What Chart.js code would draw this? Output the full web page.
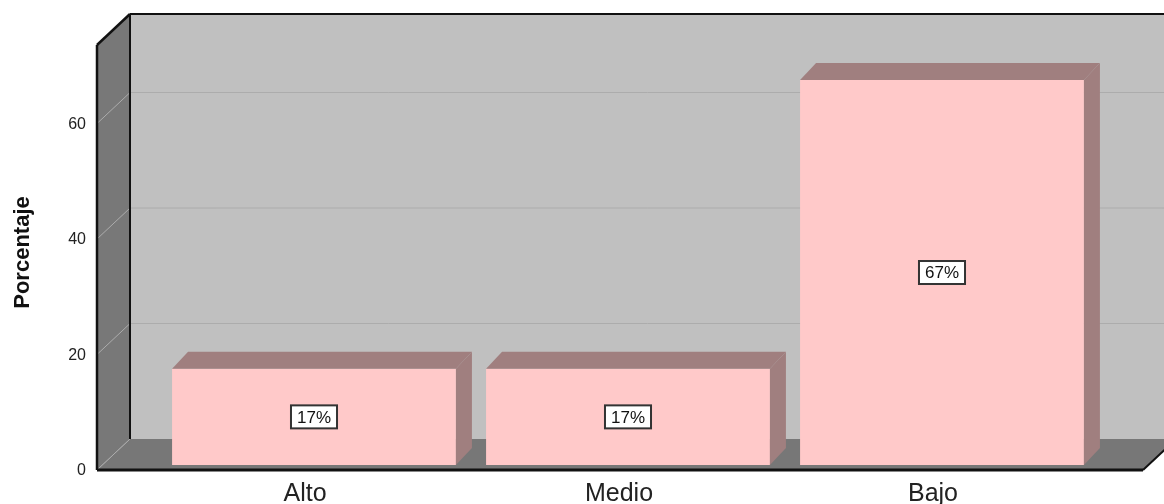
<!DOCTYPE html>
<html>
<head>
<meta charset="utf-8">
<script src="https://cdn.jsdelivr.net/npm/chart.js@4/dist/chart.umd.min.js"></script>
<style>
  html, body { margin: 0; padding: 0; background: #ffffff; }
  #wrap { width: 1164px; height: 504px; position: relative; }
</style>
</head>
<body>
<div id="wrap"><canvas id="chart"></canvas></div>
<script>
// Data
const categories = ['Alto', 'Medio', 'Bajo'];
const percentages = [16.67, 16.67, 66.67];
const valueLabels = ['17%', '17%', '67%'];
const yStep = 20;
const yMax = 73.6;

const FONT = "'Liberation Sans', Arial, sans-serif";

// 3D look: offsets from the bar plane
const FRONT = { dx: -5, dy: 5 };   // axis / front floor edge
const DEPTH = { dx: 33, dy: -31 }; // front plane -> back wall
const BAR_DEPTH = { dx: 16, dy: -17 };

const COLOURS = {
  backWall: '#c0c0c0',
  sideWall: '#787878',
  floor: '#777777',
  grid: '#acacac',
  barFront: '#ffc9c9',
  barSide: '#a07f7f',
  edge: '#111111',
};

function poly(ctx, pts, fill) {
  ctx.beginPath();
  ctx.moveTo(pts[0][0], pts[0][1]);
  for (let i = 1; i < pts.length; i++) ctx.lineTo(pts[i][0], pts[i][1]);
  ctx.closePath();
  ctx.fillStyle = fill;
  ctx.fill();
}

function line(ctx, x1, y1, x2, y2, colour, width) {
  ctx.beginPath();
  ctx.moveTo(x1, y1);
  ctx.lineTo(x2, y2);
  ctx.strokeStyle = colour;
  ctx.lineWidth = width;
  ctx.stroke();
}

const box3d = {
  id: 'box3d',
  beforeDatasetsDraw(chart) {
    const { ctx, chartArea: ca, scales: { y } } = chart;
    const fl = ca.left - 60;                 // left wall, front edge
    const bl = fl + DEPTH.dx;                // left wall, back edge
    const fr = ca.right + 44;                // floor, front right corner
    const br = fr + DEPTH.dx;
    const fTop = ca.top + FRONT.dy;
    const fBot = y.getPixelForValue(0) + FRONT.dy;
    const bTop = fTop + DEPTH.dy;
    const bBot = fBot + DEPTH.dy;

    ctx.save();
    // back wall
    poly(ctx, [[bl, bTop], [br, bTop], [br, bBot], [bl, bBot]], COLOURS.backWall);
    // left wall
    poly(ctx, [[fl, fTop], [bl, bTop], [bl, bBot], [fl, fBot]], COLOURS.sideWall);
    // floor
    poly(ctx, [[fl, fBot], [fr, fBot], [br, bBot], [bl, bBot]], COLOURS.floor);

    // grid lines on back and left walls
    y.ticks.forEach(t => {
      const fy = y.getPixelForValue(t.value) + FRONT.dy;
      const by = fy + DEPTH.dy;
      if (t.value > 0) line(ctx, bl, by, br, by, COLOURS.grid, 1);
      line(ctx, fl, fy, bl, by, COLOURS.grid, 1);
    });

    // outlines
    line(ctx, fl, fTop, fl, fBot, COLOURS.edge, 2.5);
    line(ctx, fl, fTop, bl, bTop, COLOURS.edge, 2.5);
    line(ctx, bl, bTop, br, bTop, COLOURS.edge, 2);
    line(ctx, bl, bTop, bl, bBot, COLOURS.edge, 2);
    line(ctx, fl, fBot, fr, fBot, COLOURS.edge, 3);
    line(ctx, fr, fBot, br, bBot, COLOURS.edge, 2);
    ctx.restore();
  },
  afterDatasetsDraw(chart) {
    const { ctx } = chart;
    const meta = chart.getDatasetMeta(0);
    ctx.save();
    meta.data.forEach((bar, i) => {
      const { x, y, base, width } = bar.getProps(['x', 'y', 'base', 'width'], true);
      const l = x - width / 2, r = x + width / 2;
      const dx = BAR_DEPTH.dx, dy = BAR_DEPTH.dy;
      // top face
      poly(ctx, [[l, y], [l + dx, y + dy], [r + dx, y + dy], [r, y]], COLOURS.barSide);
      // right face
      poly(ctx, [[r, y], [r + dx, y + dy], [r + dx, base + dy], [r, base]], COLOURS.barSide);

      // value label box
      const cy = (y + base) / 2;
      ctx.font = '17px ' + FONT;
      const tw = ctx.measureText(valueLabels[i]).width;
      const bw = tw + 12, bh = 23;
      ctx.fillStyle = '#ffffff';
      ctx.fillRect(x - bw / 2, cy - bh / 2, bw, bh);
      ctx.strokeStyle = '#333333';
      ctx.lineWidth = 2;
      ctx.strokeRect(x - bw / 2, cy - bh / 2, bw, bh);
      ctx.fillStyle = '#111111';
      ctx.textAlign = 'center';
      ctx.textBaseline = 'middle';
      ctx.fillText(valueLabels[i], x, cy + 1);
    });
    ctx.restore();
  },
};

new Chart(document.getElementById('chart'), {
  type: 'bar',
  data: {
    labels: categories,
    datasets: [{
      data: percentages,
      backgroundColor: COLOURS.barFront,
      borderWidth: 0,
      barPercentage: 0.904,
      categoryPercentage: 1.0,
    }],
  },
  options: {
    responsive: true,
    maintainAspectRatio: false,
    animation: false,
    layout: { padding: { left: 0, right: 65, top: 40, bottom: 0 } },
    plugins: {
      legend: { display: false },
      tooltip: { enabled: false },
    },
    scales: {
      x: {
        grid: { display: false, drawTicks: false },
        border: { display: false },
        ticks: {
          font: { family: FONT, size: 25 },
          color: '#222222',
          padding: 14,
          labelOffset: -9,
        },
        afterFit(scale) {
          scale.height = 39;
          scale.paddingLeft = 0;
          scale.paddingRight = 0;
        },
      },
      y: {
        min: 0,
        max: yMax,
        grid: { display: false, drawTicks: false },
        border: { display: false },
        ticks: {
          stepSize: yStep,
          includeBounds: false,
          font: { family: FONT, size: 16 },
          color: '#222222',
          padding: 71,
          labelOffset: FRONT.dy + 1,
        },
        title: {
          display: true,
          text: 'Porcentaje',
          font: { family: FONT, size: 22, weight: 'bold' },
          color: '#111111',
          padding: { top: 10, bottom: 0 },
        },
        afterFit(scale) {
          scale.width = 157;
          scale.paddingTop = 0;
          scale.paddingBottom = 0;
        },
      },
    },
  },
  plugins: [box3d],
});
</script>
</body>
</html>
